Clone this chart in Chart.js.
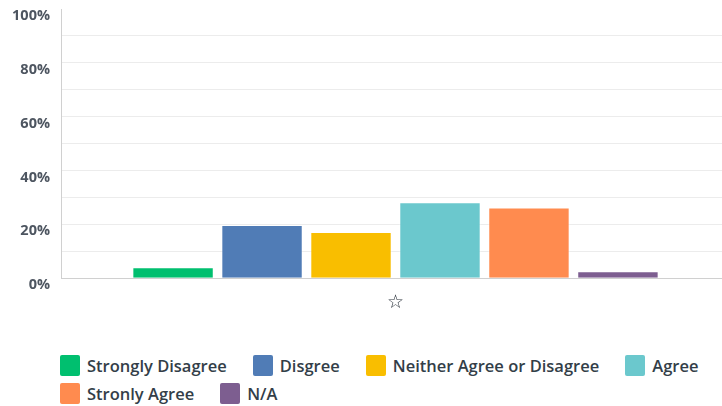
<!DOCTYPE html>
<html>
<head>
<meta charset="utf-8">
<script src="https://cdn.jsdelivr.net/npm/chart.js@4"></script>
<style>
  html, body { margin: 0; padding: 0; background: #fff; }
  body { width: 722px; height: 406px; position: relative; overflow: hidden; font-family: "Open Sans", sans-serif; }
  #wrap { position: absolute; left: 0; top: 0; width: 732px; height: 327px; }
  #legend { position: absolute; left: 60px; top: 355px; width: 700px; display: flex; flex-wrap: wrap; row-gap: 7px; }
  .item { display: flex; align-items: center; margin-right: 26px; height: 21px; }
  .box { width: 20px; height: 21px; border-radius: 2px; margin-right: 7px; flex: none; }
  .txt { font-size: 16.5px; font-weight: 600; color: #333e48; white-space: nowrap; }
</style>
</head>
<body>
<div id="wrap"><canvas id="c"></canvas></div>
<div id="legend"></div>
<script>
const categories = ['\u2606'];
const seriesNames = ['Strongly Disagree', 'Disgree', 'Neither Agree or Disagree', 'Agree', 'Stronly Agree', 'N/A'];
const seriesValues = [4.1, 19.8, 17.2, 28.2, 26.3, 2.6];
const seriesColors = ['#00BF6F', '#507CB6', '#F9BE00', '#6BC8CD', '#FF8B4F', '#7D5E90'];
const yTickLabels = ['0%', '20%', '40%', '60%', '80%', '100%'];

const datasets = seriesNames.map((name, i) => ({
  label: name,
  data: [seriesValues[i]],
  backgroundColor: seriesColors[i],
  borderColor: 'rgba(255,255,255,0.45)',
  borderWidth: 1,
  barPercentage: 0.915,
  categoryPercentage: 0.798
}));

const chart = new Chart(document.getElementById('c'), {
  type: 'bar',
  data: { labels: categories, datasets },
  options: {
    responsive: true,
    maintainAspectRatio: false,
    animation: false,
    layout: { padding: { top: 9, right: 2, left: 0, bottom: 0 } },
    plugins: { legend: { display: false }, tooltip: { enabled: false } },
    scales: {
      x: {
        grid: { display: false, drawTicks: false },
        border: { color: '#d0d0d0', width: 1 },
        ticks: { color: '#2a323b', padding: 13, font: { family: 'DejaVu Sans', size: 19, weight: 'bold' } }
      },
      y: {
        min: 0, max: 100,
        afterFit: (s) => { s.width = 61; s.paddingTop = 0; s.paddingBottom = 0; },
        grid: {
          color: (ctx) => (ctx.tick && ctx.tick.value === 100 ? 'rgba(0,0,0,0)' : '#ececec'),
          drawTicks: false, lineWidth: 1
        },
        border: { color: '#d0d0d0', width: 1 },
        ticks: {
          stepSize: 10,
          autoSkip: false,
          padding: 11,
          labelOffset: 7,
          color: '#4d5560',
          font: { family: 'Open Sans', size: 14.5, weight: 'bold' },
          callback: (v) => (v % 20 === 0 ? yTickLabels[v / 20] : '')
        }
      }
    }
  }
});

const legend = document.getElementById('legend');
seriesNames.forEach((name, i) => {
  const item = document.createElement('div');
  item.className = 'item';
  const box = document.createElement('span');
  box.className = 'box';
  box.style.background = seriesColors[i];
  const txt = document.createElement('span');
  txt.className = 'txt';
  txt.textContent = name;
  item.appendChild(box);
  item.appendChild(txt);
  legend.appendChild(item);
});
</script>
</body>
</html>
